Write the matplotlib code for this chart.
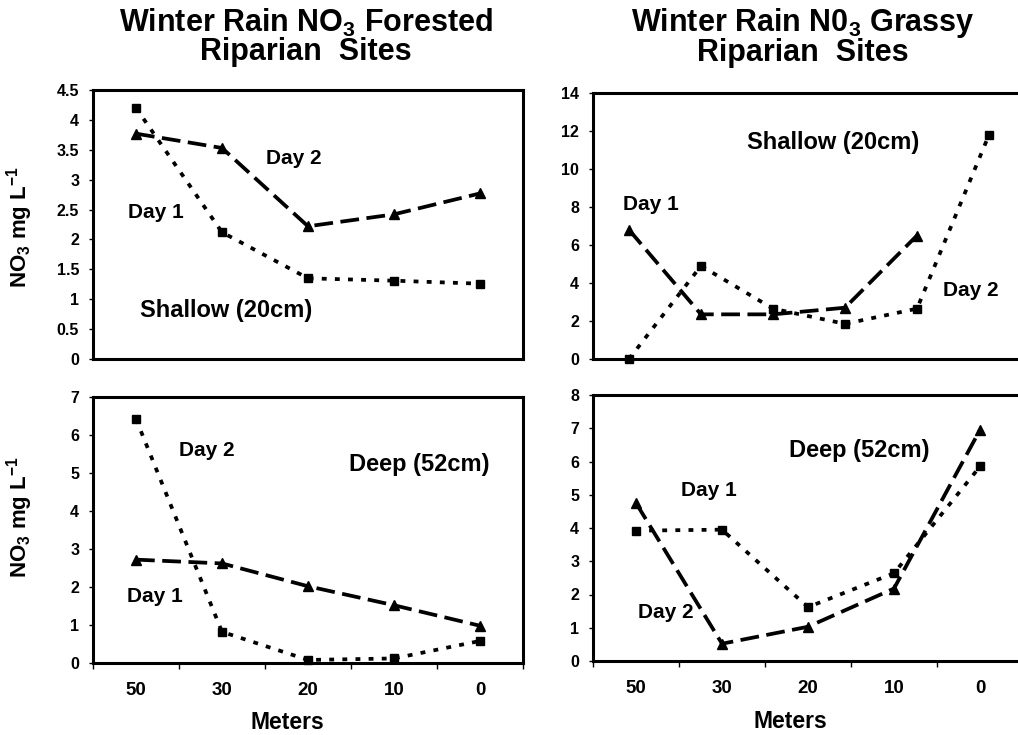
import matplotlib
matplotlib.use("Agg")
import matplotlib.pyplot as plt
import numpy as np

plt.rcParams['font.family'] = ['Liberation Sans', 'DejaVu Sans']
plt.rcParams['font.weight'] = 'bold'
plt.rcParams['axes.labelweight'] = 'bold'
plt.rcParams['mathtext.fontset'] = 'custom'
plt.rcParams['mathtext.rm'] = 'Liberation Sans:bold'
plt.rcParams['mathtext.it'] = 'Liberation Sans:bold'
plt.rcParams['mathtext.bf'] = 'Liberation Sans:bold'
plt.rcParams['mathtext.default'] = 'rm'

# distance from stream (m)
meters = ['50', '30', '20', '10', '0']

# forested, shallow (20cm)
forest_shallow_tri = [3.77, 3.53, 2.22, 2.42, 2.77]
forest_shallow_sq = [4.2, 2.12, 1.35, 1.31, 1.26]

# forested, deep (52cm)
forest_deep_tri = [2.72, 2.62, 2.02, 1.52, 0.98]
forest_deep_sq = [6.42, 0.82, 0.08, 0.12, 0.58]

# grassy, shallow (20cm) - six sampling points, no labels
grassy_shallow_tri = [6.8, 2.35, 2.35, 2.7, 6.5, np.nan]
grassy_shallow_sq = [0.0, 4.9, 2.65, 1.85, 2.65, 11.8]

# grassy, deep (52cm)
grassy_deep_tri = [4.75, 0.52, 1.03, 2.18, 6.95]
grassy_deep_sq = [3.92, 3.95, 1.62, 2.64, 5.85]

W, H = 1018, 735
fig = plt.figure(figsize=(W / 100, H / 100), dpi=100)


def px_axes(x0, y0, x1, y1):
    return fig.add_axes([x0 / W, 1 - y1 / H, (x1 - x0) / W, (y1 - y0) / H])


def setup(ax, n, ymax, ystep, labels=None):
    ax.set_xlim(-0.5, n - 0.5)
    ax.set_ylim(0, ymax)
    yt = np.arange(0, ymax + ystep / 2, ystep)
    ax.set_yticks(yt)
    ax.set_yticklabels([f"{v:g}" for v in yt])
    ax.tick_params(axis='y', direction='out', length=3, width=1, pad=7,
                   labelsize=11.5)
    for s in ax.spines.values():
        s.set_linewidth(2.2)
        s.set_color('black')
    if labels is None:
        ax.set_xticks([])
    else:
        ax.set_xticks(np.arange(n + 1) - 0.5)
        ax.set_xticklabels([])
        ax.set_xticks(np.arange(n), minor=True)
        ax.set_xticklabels(labels, minor=True)
        ax.tick_params(axis='x', which='major', direction='out', length=4,
                       width=1)
        ax.tick_params(axis='x', which='minor', length=0, pad=14,
                       labelsize=13.5)
        ax.set_xlabel('Meters', fontsize=16.5)


def draw(ax, tri, sq):
    x = np.arange(len(tri))
    ax.plot(x, tri, color='black', lw=2.7, linestyle=(0, (5, 2)),
            marker='^', markersize=6.5, clip_on=False)
    ax.plot(np.arange(len(sq)), sq, color='black', lw=2.7,
            linestyle=(0, (1.3, 2.2)), marker='s', markersize=5.5,
            clip_on=False)


ylab = 'NO$_3$ mg L$^{-1}$'

# top-left: forested shallow
ax1 = px_axes(93, 90, 523, 359)
setup(ax1, 5, 4.5, 0.5)
draw(ax1, forest_shallow_tri, forest_shallow_sq)
ax1.set_ylabel(ylab, fontsize=16)
ax1.yaxis.set_label_coords(-0.135, 0.49)

# top-right: grassy shallow
ax2 = px_axes(593, 93, 1025, 359)
setup(ax2, 6, 14, 2)
draw(ax2, grassy_shallow_tri, grassy_shallow_sq)

# bottom-left: forested deep
ax3 = px_axes(93, 397, 523, 663)
setup(ax3, 5, 7, 1, meters)
draw(ax3, forest_deep_tri, forest_deep_sq)
ax3.set_ylabel(ylab, fontsize=16)
ax3.yaxis.set_label_coords(-0.135, 0.55)
ax3.xaxis.set_label_coords(0.453, -0.18)

# bottom-right: grassy deep
ax4 = px_axes(593, 395, 1023, 661)
setup(ax4, 5, 8, 1, meters)
draw(ax4, grassy_deep_tri, grassy_deep_sq)
ax4.xaxis.set_label_coords(0.458, -0.185)

# titles
fig.text(306 / W, 1 - 37 / H, 'Winter Rain NO$_3$ Forested\nRiparian  Sites',
         ha='center', va='center', fontsize=22, linespacing=0.95)
fig.text(803 / W, 1 - 37 / H, 'Winter Rain N0$_3$ Grassy\nRiparian  Sites',
         ha='center', va='center', fontsize=22, linespacing=0.95)

# panel annotations (pixel centres)
notes = [
    ('Day 2', 294, 158, 15), ('Day 1', 156, 213, 15),
    ('Shallow (20cm)', 226, 310, 17),
    ('Shallow (20cm)', 833, 142, 17), ('Day 1', 651, 205, 15),
    ('Day 2', 971, 291, 15),
    ('Day 2', 207, 451, 15), ('Deep (52cm)', 419, 465, 17),
    ('Day 1', 155, 597, 15),
    ('Deep (52cm)', 859, 450, 17), ('Day 1', 709, 490, 15),
    ('Day 2', 666, 612, 15),
]
for txt, x, y, fs in notes:
    fig.text(x / W, 1 - y / H, txt, ha='center', va='center', fontsize=fs)

fig.savefig('out.png', dpi=100)
